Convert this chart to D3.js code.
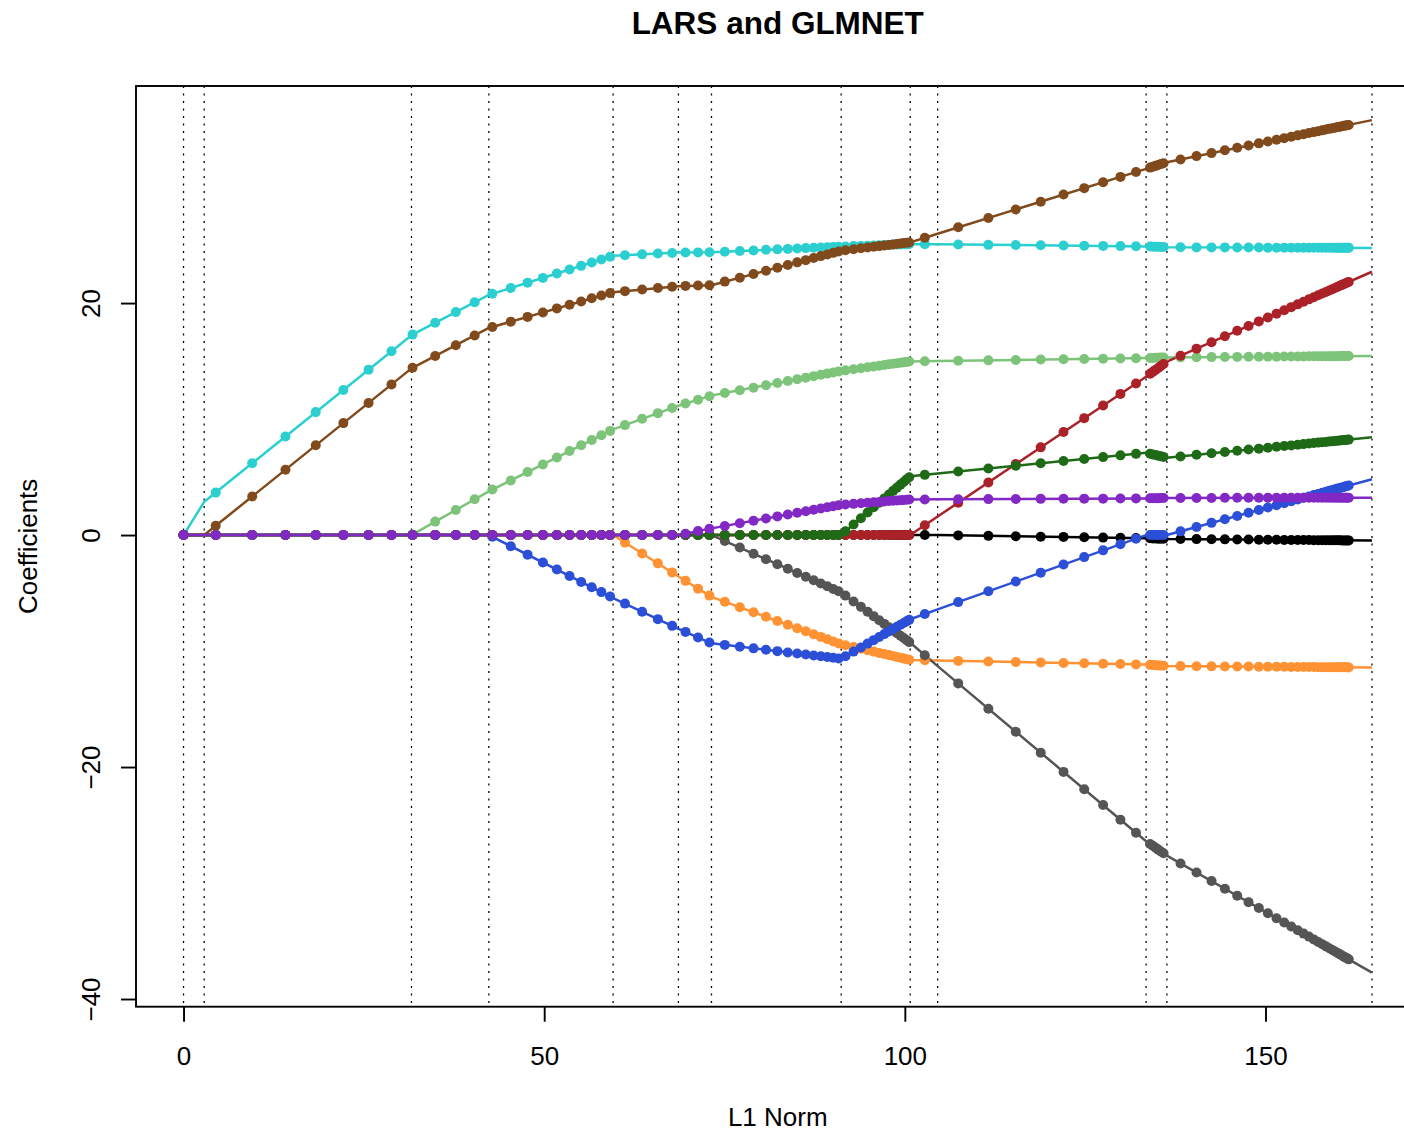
<!DOCTYPE html>
<html>
<head>
    <meta charset="utf-8">
    <script src="https://cdn.jsdelivr.net/npm/d3@7"></script>

    <style type="text/css">
        body { margin:0; background:#fff; }
        text { font-family:"Liberation Sans", Arial, Helvetica, sans-serif; fill:#000; }
        line.step {
            stroke:#000;
            stroke-width:1.3;
            stroke-dasharray:1.9 5.6;
        }
        path.lars {
            fill:none;
            stroke-width:2.5;
            stroke-linejoin:round;
        }
        rect.box { fill:none; stroke:#000; stroke-width:1.9; }
        .axis line { stroke:#000; stroke-width:1.9; }
        .axis text { font-size:26px; }
    </style>
</head>

<body>
    <svg id="plot"></svg>

    <script>
        var SizeX = 1404,
            SizeY = 1135,
            Margin = { left:136, top:86 },
            PlotW = 1283.5,
            PlotH = 920.7;

        var varNames  = ["age", "sex", "bmi", "map", "tc", "ldl", "hdl", "tch", "ltg", "glu"];
        var varColors = ["#000000", "#ff9233", "#2ccfcf", "#7dc47a", "#555555",
                         "#aa2228", "#2b4fd6", "#1f6a17", "#804a1c", "#8228c4"];

        var xTicks = [0, 50, 100, 150];
        var yTicks = [-40, -20, 0, 20];

        // LARS path: L1 norm and coefficients at each step
        var larsNorm = [0, 2.863, 31.603, 42.329, 59.557, 68.609, 73.194, 91.171, 100.750, 104.550, 133.447, 136.334, 164.762];
        var larsAge = [0, 0, 0, 0, 0, 0, 0, 0, 0, 0, -0.272, -0.334, -0.477];
        var larsSex = [0, 0, 0, 0, 0, -3.568, -5.332, -9.417, -10.768, -10.818, -11.162, -11.290, -11.420];
        var larsBmi = [0, 2.863, 17.233, 20.703, 24.079, 24.350, 24.383, 24.870, 25.090, 25.066, 24.888, 24.813, 24.754];
        var larsMap = [0, 0, 0, 3.773, 9.108, 11.150, 12.025, 14.150, 14.971, 14.998, 15.254, 15.312, 15.447];
        var larsTc  = [0, 0, 0, 0, 0, 0, 0, -4.950, -9.291, -11.302, -26.394, -27.640, -37.723];
        var larsLdl = [0, 0, 0, 0, 0, 0, 0, 0, 0, 1.601, 13.654, 14.946, 22.702];
        var larsHdl = [0, 0, 0, 0, -5.433, -8.081, -9.336, -10.663, -7.261, -6.410, 0, 0, 4.811];
        var larsTch = [0, 0, 0, 0, 0, 0, 0, 0, 5.064, 5.304, 7.090, 6.660, 8.431];
        var larsLtg = [0, 0, 14.370, 17.853, 20.936, 21.460, 21.542, 24.512, 25.234, 25.975, 31.573, 32.140, 35.775];
        var larsGlu = [0, 0, 0, 0, 0, 0, 0.575, 2.608, 3.071, 3.077, 3.159, 3.199, 3.220];

        // GLMNET solutions: L1 norm and coefficients for each lambda
        var glmNorm = [0,
            4.46, 9.52, 14.13, 18.33, 22.16, 25.65, 28.83,
            31.75, 34.89, 37.75, 40.36,
            42.81, 45.37, 47.70, 49.82, 51.76, 53.52, 55.13, 56.59, 57.93, 59.14,
            61.20, 63.58, 65.76, 67.74,
            69.59, 71.33, 72.91,
            75.04, 77.12, 79.02, 80.75, 82.33, 83.77, 85.08, 86.27, 87.36, 88.35, 89.25, 90.07, 90.82,
            91.77, 92.89, 93.91, 94.84, 95.68, 96.45, 97.16, 97.80, 98.38, 98.91, 99.40, 99.84, 100.24, 100.61,
            102.77,
            107.40, 111.58, 115.38, 118.84, 122.00, 124.87, 127.49, 129.89, 132.05,
            134.00, 134.38, 134.76, 135.13, 135.49, 135.87,
            138.22, 140.44, 142.52, 144.37, 146.08, 147.65, 149.08, 150.33, 151.53, 152.60, 153.57, 154.47, 155.28, 156.02,
            156.69, 157.31, 157.87, 158.38, 158.84, 159.27, 159.64, 160.00, 160.32, 160.61, 160.88, 161.13, 161.35, 161.54];

        var glmAge = [0,
            0, 0, 0, 0, 0, 0, 0,
            0, 0, 0, 0,
            0, 0, 0, 0, 0, 0, 0, 0, 0, 0,
            0, 0, 0, 0,
            0, 0, 0,
            0, 0, 0, 0, 0, 0, 0, 0, 0, 0, 0, 0, 0,
            0, 0, 0, 0, 0, 0, 0, 0, 0, 0, 0, 0, 0, 0,
            0,
            -0.03, -0.07, -0.10, -0.14, -0.16, -0.19, -0.22, -0.24, -0.26,
            -0.28, -0.29, -0.30, -0.31, -0.32, -0.32,
            -0.34, -0.35, -0.36, -0.37, -0.38, -0.39, -0.40, -0.40, -0.41, -0.42, -0.42, -0.43, -0.43, -0.43,
            -0.44, -0.44, -0.44, -0.44, -0.45, -0.45, -0.45, -0.45, -0.45, -0.46, -0.46, -0.46, -0.46, -0.46];

        var glmSex = [0,
            0, 0, 0, 0, 0, 0, 0,
            0, 0, 0, 0,
            0, 0, 0, 0, 0, 0, 0, 0, 0, 0,
            -0.65, -1.59, -2.44, -3.22,
            -3.95, -4.62, -5.22,
            -5.75, -6.23, -6.66, -7.05, -7.41, -7.74, -8.03, -8.30, -8.55, -8.78, -8.98, -9.17, -9.34,
            -9.50, -9.66, -9.80, -9.93, -10.05, -10.16, -10.26, -10.35, -10.43, -10.51, -10.58, -10.64, -10.70, -10.75,
            -10.80,
            -10.85, -10.90, -10.95, -10.99, -11.03, -11.06, -11.09, -11.12, -11.15,
            -11.19, -11.20, -11.22, -11.24, -11.25, -11.27,
            -11.30, -11.31, -11.32, -11.33, -11.33, -11.34, -11.35, -11.35, -11.36, -11.36, -11.37, -11.37, -11.38, -11.38,
            -11.38, -11.39, -11.39, -11.39, -11.39, -11.39, -11.40, -11.40, -11.40, -11.40, -11.40, -11.40, -11.40, -11.41];

        var glmBmi = [0,
            3.66, 6.19, 8.50, 10.60, 12.51, 14.26, 15.85,
            17.28, 18.30, 19.22, 20.07,
            20.80, 21.30, 21.76, 22.17, 22.55, 22.90, 23.21, 23.50, 23.76, 24.00,
            24.13, 24.20, 24.27, 24.32,
            24.36, 24.37, 24.38,
            24.43, 24.49, 24.54, 24.59, 24.63, 24.67, 24.71, 24.74, 24.77, 24.79, 24.82, 24.84, 24.86,
            24.88, 24.91, 24.93, 24.95, 24.97, 24.99, 25.01, 25.02, 25.04, 25.05, 25.06, 25.07, 25.08, 25.09,
            25.08,
            25.05, 25.02, 25.00, 24.98, 24.96, 24.94, 24.93, 24.91, 24.90,
            24.87, 24.86, 24.85, 24.85, 24.84, 24.83,
            24.81, 24.80, 24.80, 24.80, 24.79, 24.79, 24.79, 24.78, 24.78, 24.78, 24.78, 24.78, 24.77, 24.77,
            24.77, 24.77, 24.77, 24.77, 24.77, 24.77, 24.76, 24.76, 24.76, 24.76, 24.76, 24.76, 24.76, 24.76];

        var glmMap = [0,
            0, 0, 0, 0, 0, 0, 0,
            0.05, 1.16, 2.16, 3.08,
            3.92, 4.71, 5.44, 6.09, 6.69, 7.24, 7.74, 8.19, 8.60, 8.98,
            9.48, 10.02, 10.51, 10.95,
            11.34, 11.67, 11.97,
            12.24, 12.49, 12.71, 12.92, 13.11, 13.28, 13.43, 13.57, 13.70, 13.82, 13.92, 14.02, 14.11,
            14.20, 14.30, 14.38, 14.46, 14.54, 14.60, 14.66, 14.72, 14.77, 14.81, 14.86, 14.89, 14.93, 14.96,
            14.99,
            15.02, 15.06, 15.09, 15.13, 15.15, 15.18, 15.20, 15.22, 15.24,
            15.27, 15.27, 15.28, 15.29, 15.30, 15.30,
            15.32, 15.33, 15.34, 15.35, 15.36, 15.37, 15.37, 15.38, 15.38, 15.39, 15.39, 15.40, 15.40, 15.41,
            15.41, 15.41, 15.41, 15.42, 15.42, 15.42, 15.42, 15.42, 15.43, 15.43, 15.43, 15.43, 15.43, 15.43];

        var glmTc = [0,
            0, 0, 0, 0, 0, 0, 0,
            0, 0, 0, 0,
            0, 0, 0, 0, 0, 0, 0, 0, 0, 0,
            0, 0, 0, 0,
            0, 0, 0,
            -0.51, -1.08, -1.61, -2.08, -2.52, -2.91, -3.27, -3.60, -3.90, -4.17, -4.42, -4.65, -4.85,
            -5.22, -5.73, -6.19, -6.61, -6.99, -7.34, -7.66, -7.95, -8.22, -8.46, -8.68, -8.88, -9.06, -9.23,
            -10.36,
            -12.79, -14.97, -16.96, -18.77, -20.42, -21.92, -23.28, -24.54, -25.67,
            -26.63, -26.79, -26.96, -27.12, -27.28, -27.44,
            -28.31, -29.10, -29.83, -30.49, -31.10, -31.65, -32.16, -32.60, -33.03, -33.41, -33.75, -34.07, -34.36, -34.62,
            -34.86, -35.08, -35.28, -35.46, -35.62, -35.78, -35.91, -36.03, -36.15, -36.25, -36.35, -36.43, -36.51, -36.58];

        var glmLdl = [0,
            0, 0, 0, 0, 0, 0, 0,
            0, 0, 0, 0,
            0, 0, 0, 0, 0, 0, 0, 0, 0, 0,
            0, 0, 0, 0,
            0, 0, 0,
            0, 0, 0, 0, 0, 0, 0, 0, 0, 0, 0, 0, 0,
            0, 0, 0, 0, 0, 0, 0, 0, 0, 0, 0, 0, 0, 0,
            0.85,
            2.79, 4.53, 6.12, 7.56, 8.88, 10.08, 11.17, 12.17, 13.07,
            13.90, 14.07, 14.24, 14.40, 14.57, 14.74,
            15.46, 16.07, 16.63, 17.14, 17.61, 18.03, 18.42, 18.76, 19.09, 19.38, 19.65, 19.89, 20.12, 20.32,
            20.50, 20.67, 20.82, 20.96, 21.09, 21.20, 21.30, 21.40, 21.49, 21.57, 21.64, 21.71, 21.77, 21.82];

        var glmHdl = [0,
            0, 0, 0, 0, 0, 0, 0,
            0, 0, 0, 0,
            -0.15, -0.96, -1.69, -2.36, -2.97, -3.53, -4.04, -4.50, -4.92, -5.30,
            -5.91, -6.61, -7.25, -7.83,
            -8.35, -8.83, -9.26,
            -9.47, -9.63, -9.77, -9.89, -10.01, -10.12, -10.21, -10.30, -10.38, -10.45, -10.52, -10.58, -10.64,
            -10.45, -10.05, -9.69, -9.36, -9.06, -8.79, -8.54, -8.31, -8.10, -7.91, -7.74, -7.59, -7.44, -7.31,
            -6.81,
            -5.78, -4.85, -4.01, -3.24, -2.54, -1.90, -1.32, -0.79, -0.31,
            0, 0, 0, 0, 0, 0,
            0.32, 0.69, 1.05, 1.36, 1.65, 1.92, 2.16, 2.37, 2.57, 2.75, 2.92, 3.07, 3.21, 3.33,
            3.45, 3.55, 3.64, 3.73, 3.81, 3.88, 3.94, 4.01, 4.06, 4.11, 4.15, 4.20, 4.23, 4.27];

        var glmTch = [0,
            0, 0, 0, 0, 0, 0, 0,
            0, 0, 0, 0,
            0, 0, 0, 0, 0, 0, 0, 0, 0, 0,
            0, 0, 0, 0,
            0, 0, 0,
            0, 0, 0, 0, 0, 0, 0, 0, 0, 0, 0, 0, 0,
            0.32, 0.91, 1.45, 1.94, 2.39, 2.79, 3.16, 3.50, 3.81, 4.09, 4.35, 4.58, 4.80, 4.99,
            5.19,
            5.48, 5.74, 5.97, 6.19, 6.38, 6.56, 6.72, 6.87, 7.00,
            7.01, 6.95, 6.90, 6.84, 6.79, 6.73,
            6.78, 6.92, 7.05, 7.16, 7.27, 7.37, 7.45, 7.53, 7.61, 7.67, 7.73, 7.79, 7.84, 7.89,
            7.93, 7.97, 8.00, 8.03, 8.06, 8.09, 8.11, 8.13, 8.15, 8.17, 8.19, 8.20, 8.22, 8.23];

        var glmLtg = [0,
            0.80, 3.33, 5.63, 7.74, 9.65, 11.39, 12.98,
            14.42, 15.44, 16.37, 17.21,
            17.94, 18.40, 18.81, 19.19, 19.54, 19.86, 20.14, 20.41, 20.65, 20.86,
            21.03, 21.17, 21.30, 21.41,
            21.48, 21.51, 21.54,
            21.85, 22.19, 22.51, 22.79, 23.05, 23.29, 23.51, 23.70, 23.88, 24.05, 24.19, 24.33, 24.45,
            24.56, 24.64, 24.72, 24.79, 24.85, 24.91, 24.96, 25.01, 25.06, 25.10, 25.13, 25.17, 25.20, 25.22,
            25.63,
            26.53, 27.34, 28.07, 28.74, 29.36, 29.91, 30.42, 30.88, 31.30,
            31.68, 31.75, 31.83, 31.90, 31.98, 32.05,
            32.38, 32.67, 32.93, 33.17, 33.39, 33.59, 33.77, 33.93, 34.08, 34.22, 34.34, 34.46, 34.56, 34.66,
            34.74, 34.82, 34.89, 34.96, 35.02, 35.07, 35.12, 35.17, 35.21, 35.24, 35.28, 35.31, 35.34, 35.36];

        var glmGlu = [0,
            0, 0, 0, 0, 0, 0, 0,
            0, 0, 0, 0,
            0, 0, 0, 0, 0, 0, 0, 0, 0, 0,
            0, 0, 0, 0,
            0.12, 0.34, 0.54,
            0.78, 1.02, 1.23, 1.43, 1.61, 1.77, 1.92, 2.05, 2.18, 2.29, 2.39, 2.48, 2.57,
            2.64, 2.69, 2.74, 2.79, 2.83, 2.86, 2.90, 2.93, 2.96, 2.98, 3.01, 3.03, 3.05, 3.06,
            3.07,
            3.09, 3.10, 3.11, 3.12, 3.13, 3.14, 3.14, 3.15, 3.16,
            3.17, 3.17, 3.18, 3.18, 3.19, 3.19,
            3.20, 3.20, 3.20, 3.21, 3.21, 3.21, 3.21, 3.21, 3.21, 3.21, 3.21, 3.21, 3.21, 3.21,
            3.21, 3.21, 3.22, 3.22, 3.22, 3.22, 3.22, 3.22, 3.22, 3.22, 3.22, 3.22, 3.22, 3.22];

        var larsCoef = [larsAge, larsSex, larsBmi, larsMap, larsTc, larsLdl, larsHdl, larsTch, larsLtg, larsGlu];
        var glmCoef  = [glmAge, glmSex, glmBmi, glmMap, glmTc, glmLdl, glmHdl, glmTch, glmLtg, glmGlu];

        // R-style 4% padding on each side
        var xr = d3.extent(larsNorm),
            yr = d3.extent(d3.merge(larsCoef));
        var xpad = (xr[1] - xr[0]) * 0.04,
            ypad = (yr[1] - yr[0]) * 0.04;

        var x_scale = d3.scaleLinear()
                        .domain([xr[0] - xpad, xr[1] + xpad])
                        .range([Margin.left, Margin.left + PlotW]);
        var y_scale = d3.scaleLinear()
                        .domain([yr[0] - ypad, yr[1] + ypad])
                        .range([Margin.top + PlotH, Margin.top]);

        var svg = d3.select("#plot")
            .attr("width", SizeX)
            .attr("height", SizeY);

        svg.append("defs").append("clipPath").attr("id", "clip")
            .append("rect")
                .attr("x", Margin.left).attr("y", Margin.top)
                .attr("width", PlotW).attr("height", PlotH);

        var inner = svg.append("g").attr("clip-path", "url(#clip)");

        // vertical dotted lines at LARS steps
        inner.selectAll(".step")
            .data(larsNorm)
            .enter()
                .append("line").classed("step", true)
                    .attr("x1", (d)=>x_scale(d))
                    .attr("x2", (d)=>x_scale(d))
                    .attr("y1", Margin.top)
                    .attr("y2", Margin.top + PlotH);

        var path = d3.line()
            .x((d)=>x_scale(d[0]))
            .y((d)=>y_scale(d[1]));

        inner.selectAll(".lars")
            .data(larsCoef)
            .enter()
                .append("path").classed("lars", true)
                    .attr("stroke", (d, i)=>varColors[i])
                    .attr("d", (d)=>path(d.map((v, j)=>[larsNorm[j], v])));

        glmCoef.forEach(function(col, i) {
            inner.append("g").attr("class", "glm " + varNames[i])
                .selectAll("circle")
                .data(col)
                .enter()
                    .append("circle")
                        .attr("cx", (d, j)=>x_scale(glmNorm[j]))
                        .attr("cy", (d)=>y_scale(d))
                        .attr("r", 5)
                        .attr("fill", varColors[i]);
        });

        svg.append("rect").classed("box", true)
            .attr("x", Margin.left).attr("y", Margin.top)
            .attr("width", PlotW).attr("height", PlotH);

        var x_axis_g = svg.append("g").attr("class", "axis")
            .attr("transform", "translate(0 " + (Margin.top + PlotH) + ")")
            .call(d3.axisBottom(x_scale).tickValues(xTicks).tickSize(15));
        x_axis_g.select(".domain").remove();
        x_axis_g.selectAll("text").attr("y", 58).attr("dy", "0");

        var y_axis_g = svg.append("g").attr("class", "axis")
            .attr("transform", "translate(" + Margin.left + " 0)")
            .call(d3.axisLeft(y_scale).tickValues(yTicks).tickSize(15));
        y_axis_g.select(".domain").remove();
        y_axis_g.selectAll("text")
            .attr("x", null).attr("dy", null)
            .attr("text-anchor", "middle")
            .attr("transform", "translate(-36 0) rotate(-90)");

        svg.append("text")
            .attr("x", Margin.left + PlotW / 2).attr("y", 34)
            .attr("text-anchor", "middle")
            .style("font-size", "31.5px").style("font-weight", "bold")
            .text("LARS and GLMNET");

        svg.append("text")
            .attr("x", Margin.left + PlotW / 2).attr("y", 1126)
            .attr("text-anchor", "middle")
            .style("font-size", "26px")
            .text("L1 Norm");

        svg.append("text")
            .attr("transform", "translate(37 " + (Margin.top + PlotH / 2) + ") rotate(-90)")
            .attr("text-anchor", "middle")
            .style("font-size", "26px")
            .text("Coefficients");
    </script>
</body>
</html>
